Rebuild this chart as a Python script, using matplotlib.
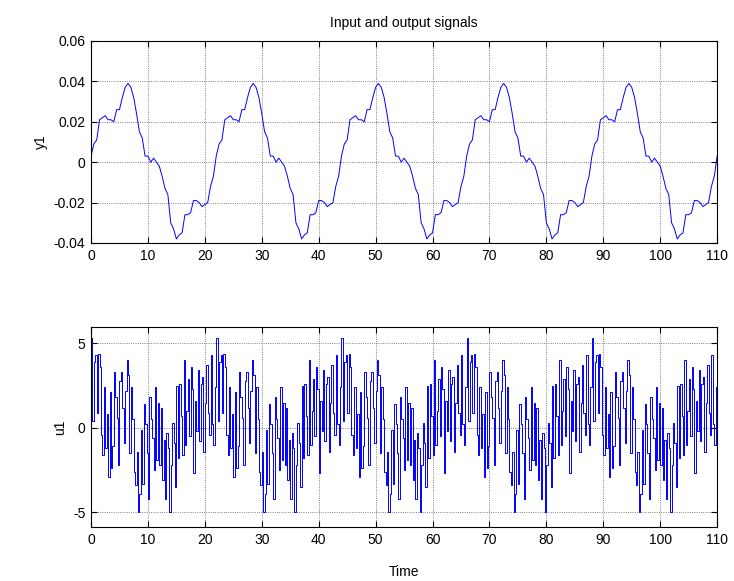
import numpy as np
import matplotlib.pyplot as plt

plt.rcParams['font.family'] = ['Liberation Sans', 'DejaVu Sans']
plt.rcParams['font.size'] = 10
plt.rcParams['axes.unicode_minus'] = False

period = 22.0
n_periods = 5

# output y1 over one period, read every 0.5 s
y1_period = [0.003, 0.009, 0.011, 0.021, 0.022, 0.023, 0.021, 0.021, 0.020, 0.026,
             0.026, 0.032, 0.037, 0.039, 0.037, 0.032, 0.024, 0.015, 0.012, 0.003,
             0.003, 0.000, 0.002, 0.000, -0.002, -0.007, -0.013, -0.016, -0.030, -0.033,
             -0.038, -0.036, -0.035, -0.026, -0.026, -0.025, -0.019, -0.019, -0.020, -0.022,
             -0.021, -0.020, -0.012, -0.007]

# input u1 over one period, held values every 0.25 s
u1_period = [5.3, 0.4, 3.9, 4.3, 0.9, 4.4, 3.6, -0.4, -1.6, 2.4,
             -1.2, 0.8, -2.9, 2.1, -2.4, -1.1, 3.3, 1.8, 0.6, -2.2,
             2.8, 3.3, 1.2, -0.9, 2.2, 4.0, 3.1, -1.5, 2.4, 0.5,
             -2.6, -3.4, -1.4, -5.0, -3.9, -0.1, -3.3, 1.4, 0.2, -1.5,
             -4.2, 1.8, 0.5, -0.6, -2.5, 2.4, -1.9, 1.5, -2.2, 1.2,
             -3.1, -0.7, -4.2, -0.3, -1.2, -5.0, -2.2, 0.3, -0.9, -3.5,
             2.5, -1.8, 2.6, 0.7, -1.6, 4.0, -1.0, 1.0, 2.9, -0.5,
             3.6, 2.3, -2.7, 1.6, -0.2, 3.4, -0.8, 2.6, 3.0, -1.4,
             1.5, 3.7, 0.9, -0.4, 4.3, 0.2, -1.0, 2.4]

x_ticks = list(range(0, 111, 10))
y1_ticks = [-0.04, -0.02, 0, 0.02, 0.04, 0.06]
y1_labels = ['-0.04', '-0.02', '0', '0.02', '0.04', '0.06']
u1_ticks = [-5, 0, 5]

y1 = np.array(y1_period * n_periods + [y1_period[0]])
t_y = np.linspace(0, period * n_periods, len(y1))
u1 = np.array(u1_period * n_periods + [u1_period[0]])
t_u = np.linspace(0, period * n_periods, len(u1))


def style_axes(ax):
    ax.set_axisbelow(True)
    ax.grid(True, color='0.35', linestyle=':', linewidth=0.6)
    ax.tick_params(direction='in', top=True, right=True, length=4, width=0.8,
                   labelsize=10, pad=4)
    for s in ax.spines.values():
        s.set_linewidth(0.8)
    ax.set_xlim(0, 110)
    ax.set_xticks(x_ticks)


fig = plt.figure(figsize=(7.34, 5.81), dpi=100)
ax1 = fig.add_axes([0.124, 0.5818, 0.853, 0.3477])
ax2 = fig.add_axes([0.124, 0.0929, 0.853, 0.344])

ax1.plot(t_y, y1, color='blue', linewidth=0.7)
style_axes(ax1)
ax1.set_ylim(-0.04, 0.06)
ax1.set_yticks(y1_ticks)
ax1.set_yticklabels(y1_labels)
ax1.set_ylabel('y1')
ax1.set_title('Input and output signals', fontsize=10, pad=10)

ax2.step(t_u, u1, where='post', color='blue', linewidth=0.7)
style_axes(ax2)
ax2.set_ylim(-5.87, 5.96)
ax2.set_yticks(u1_ticks)
ax2.set_ylabel('u1')
ax2.set_xlabel('Time', labelpad=13)

fig.savefig('out.png', dpi=100)
